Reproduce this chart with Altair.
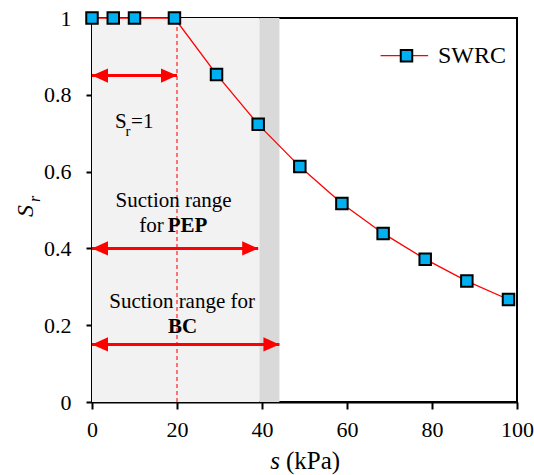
import altair as alt
import pandas as pd

FONT = "Liberation Serif, Times New Roman, Times, serif"

# Data
s_vals = [0, 5, 10, 19.4, 29.3, 39.1, 48.9, 58.8, 68.5, 78.4, 88.2, 98]
sr_vals = [1, 1, 1, 1, 0.853, 0.723, 0.613, 0.517, 0.439, 0.372, 0.315, 0.267]

band_start = [0, 39.4]
band_end = [39.4, 44.1]
band_color = ["#f2f2f2", "#d9d9d9"]

arrow_y = [0.85, 0.40, 0.15]
arrow_start = [0, 0, 0]
arrow_end = [20, 39.1, 44.1]

dash_s = [20]
x_ticks = [0, 20, 40, 60, 80, 100]
y_ticks = [0, 0.2, 0.4, 0.6, 0.8, 1]

xscale = alt.Scale(domain=[0, 100], nice=False, zero=False)
yscale = alt.Scale(domain=[0, 1], nice=False, zero=False)
xaxis = alt.Axis(values=x_ticks, format="d", title=None, grid=False,
                 domainColor="black", domainWidth=2, tickColor="black",
                 tickWidth=2, tickSize=7, labelFont=FONT, labelFontSize=22,
                 labelColor="black", labelPadding=10, labelFlush=False)
yaxis = alt.Axis(values=y_ticks, format="~g", title=None, grid=False,
                 domainColor="black", domainWidth=2, tickColor="black",
                 tickWidth=2, tickSize=6, labelFont=FONT, labelFontSize=22,
                 labelColor="black", labelPadding=15)


def X(field):
    return alt.X(field, type="quantitative", scale=xscale, axis=xaxis)


def Y(field):
    return alt.Y(field, type="quantitative", scale=yscale, axis=yaxis)


bands = pd.DataFrame({"a": band_start, "b": band_end, "c": band_color,
                      "lo": [0, 0], "hi": [1, 1]})
band_layer = alt.Chart(bands).mark_rect().encode(
    x=X("a"), x2="b", y=Y("lo"), y2="hi",
    color=alt.Color("c:N", scale=None))

dash_layer = alt.Chart(pd.DataFrame({"x": dash_s, "lo": [0], "hi": [1]})).mark_rule(
    color="#ff3030", strokeWidth=1.3, strokeDash=[4, 3]).encode(
    x=X("x"), y=Y("lo"), y2="hi")

arrows = pd.DataFrame({"y": arrow_y, "a": arrow_start, "b": arrow_end})
arrow_line = alt.Chart(arrows).mark_rule(color="#ff0000", strokeWidth=3).encode(
    x=X("a"), x2="b", y=Y("y"))
head_r = alt.Chart(arrows).mark_point(
    shape="M0,0L-2,-0.9L-2,0.9Z", filled=True, size=256, color="#ff0000",
    opacity=1, strokeWidth=0).encode(x=X("b"), y=Y("y"))
head_l = alt.Chart(arrows).mark_point(
    shape="M0,0L2,-0.9L2,0.9Z", filled=True, size=256, color="#ff0000",
    opacity=1, strokeWidth=0).encode(x=X("a"), y=Y("y"))

curve = pd.DataFrame({"s": s_vals, "sr": sr_vals})
line_layer = alt.Chart(curve).mark_line(color="#ff0000", strokeWidth=1.3).encode(
    x=X("s"), y=Y("sr"))
pts_layer = alt.Chart(curve).mark_point(
    shape="square", filled=True, size=132, fill="#00b0f0", stroke="black",
    strokeWidth=2, opacity=1, fillOpacity=1).encode(x=X("s"), y=Y("sr"))


def label(text, x, y, size=21, align="center", weight="normal",
          style="normal", baseline="alphabetic"):
    df = pd.DataFrame({"t": [text], "x": [x], "y": [y]})
    return alt.Chart(df).mark_text(
        font=FONT, fontSize=size, align=align, baseline=baseline,
        fontWeight=weight, fontStyle=style, color="black").encode(
        x=X("x"), y=Y("y"), text="t:N")


def pxlabel(text, x, y, size=21, align="center", weight="normal",
            style="normal", baseline="alphabetic", angle=0):
    df = pd.DataFrame({"t": [text]})
    return alt.Chart(df).mark_text(
        font=FONT, fontSize=size, align=align, baseline=baseline,
        fontWeight=weight, fontStyle=style, color="black", angle=angle).encode(
        x=alt.value(x), y=alt.value(y), text="t:N")


texts = [
    label("S", 5.4, 0.714, size=21, align="left"),
    label("r", 7.9, 0.694, size=15, align="left"),
    label("=1", 9.2, 0.714, size=21, align="left"),
    label("Suction range", 19.2, 0.508),
    label("for", 16.9, 0.443, align="right"),
    label("PEP", 17.8, 0.443, align="left", weight="bold"),
    label("Suction range for", 21.2, 0.245),
    label("BC", 21.3, 0.18, weight="bold"),
]

# legend
legend_line = alt.Chart(pd.DataFrame({"a": [67.9], "b": [79.1], "y": [0.902]})).mark_rule(
    color="#ff0000", strokeWidth=1.3).encode(x=X("a"), x2="b", y=Y("y"))
legend_pt = alt.Chart(pd.DataFrame({"x": [74.0], "y": [0.902]})).mark_point(
    shape="square", filled=True, size=132, fill="#00b0f0", stroke="black",
    strokeWidth=2, opacity=1, fillOpacity=1).encode(x=X("x"), y=Y("y"))
legend_txt = label("SWRC", 81.4, 0.902, size=24, align="left", baseline="middle")

# axis titles
titles = [
    pxlabel("s", 188, 451, size=25, align="right", style="italic"),
    pxlabel("(kPa)", 194, 451, size=25, align="left"),
    pxlabel("S", -66, 193, size=24, style="italic", angle=270, baseline="middle"),
    pxlabel("r", -57, 181, size=16, style="italic", angle=270, baseline="middle"),
]

chart = alt.layer(
    band_layer, dash_layer, arrow_line, head_r, head_l, line_layer, pts_layer,
    *texts, legend_line, legend_pt, legend_txt, *titles
).properties(
    width=425, height=384, autosize="none",
    padding={"left": 92, "top": 18, "right": 17, "bottom": 73},
    background="white"
).configure_view(stroke="black", strokeWidth=2)

chart.save("out.html", embed_options={"renderer": "svg", "actions": False})
